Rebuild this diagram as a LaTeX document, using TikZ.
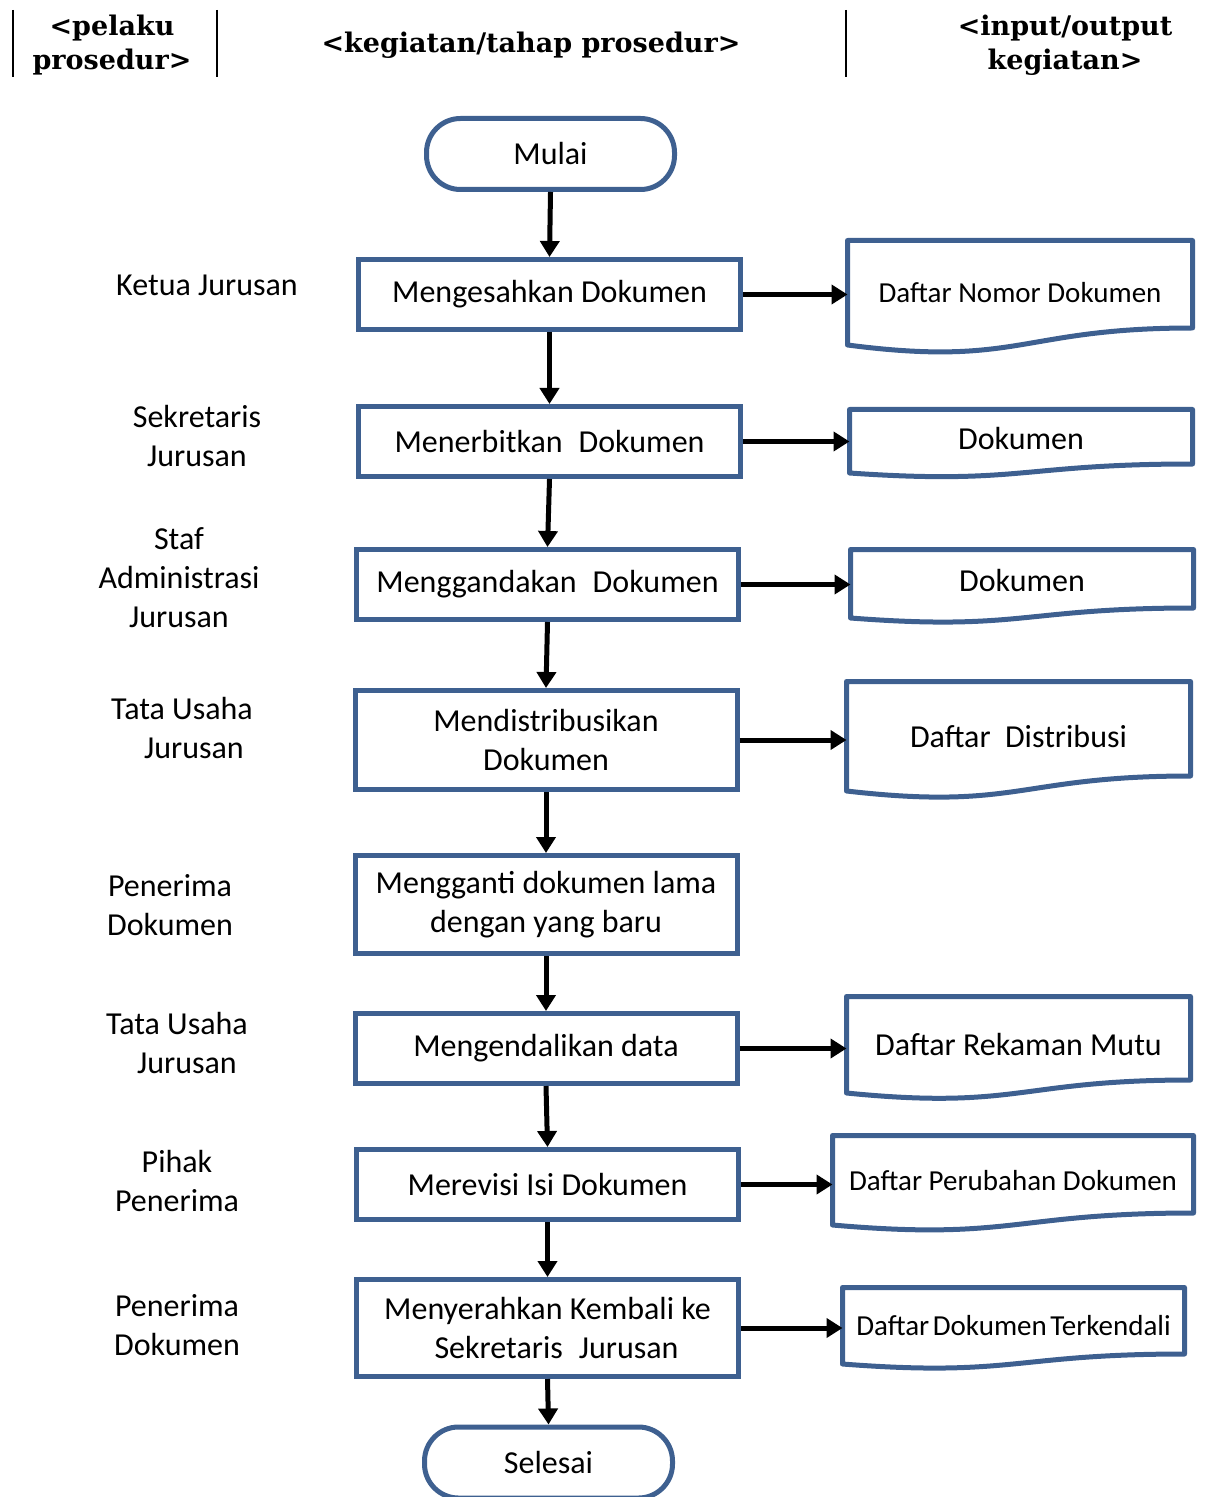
\documentclass[tikz,border=0pt]{standalone}
\usepackage{fontspec}
\setmainfont{Carlito}
\newfontfamily\hdrfont{DejaVu Serif}
\usetikzlibrary{arrows.meta,calc}
\definecolor{boxblue}{RGB}{62,96,144}
\newcommand\drawdoc[2]{\draw[docline] (#1.south west) -- (#1.north west) -- (#1.north east) -- ($(#1.south east)+(0,-#2)$) .. controls ($(#1.south)+(0,-#2)$) and ($(#1.south)+(0,{1.32*#2})$) .. (#1.south west) -- cycle;}
\begin{document}
\begin{tikzpicture}[x=0.5pt,y=-0.5pt,
  procbox/.style={draw=boxblue,line width=2.5pt,fill=white,minimum width=191pt,minimum height=35pt,inner sep=0pt,align=center,font=\fontsize{16}{19.5}\selectfont},
  termbox/.style={draw=boxblue,line width=2.5pt,rounded corners=17pt,minimum width=124pt,minimum height=35.5pt,inner sep=0pt,font=\fontsize{16}{19.5}\selectfont},
  docnode/.style={draw=none,outer sep=0pt,inner sep=0pt,align=center,font=\fontsize{16}{19.5}\selectfont},
  smalldoc/.style={font=\fontsize{14.5}{18}\selectfont},
  docline/.style={draw=boxblue,line width=2.5pt,line join=round},
  arr/.style={line width=2.5pt,-{Triangle[length=8pt,width=9.5pt]}},
  actor/.style={align=center,font=\fontsize{16}{19.5}\selectfont},
  hdr/.style={align=center,font=\hdrfont\bfseries\fontsize{13.5}{17}\selectfont},
  hdrline/.style={line width=1pt}
]
\useasboundingbox (0,0) rectangle (1221,1497);

% header
\draw[hdrline] (13,10) -- (13,77);
\draw[hdrline] (217,10) -- (217,77);
\draw[hdrline] (846,10) -- (846,77);
\node[hdr] (h1) at (112,45) {<pelaku\\prosedur>};
\node[hdr] (h2) at (531,45) {<kegiatan/tahap prosedur>};
\node[hdr] (h3) at (1065,45) {<input/output\\kegiatan>};

% actors
\node[actor] (a1) at (207,285) {Ketua Jurusan};
\node[actor] (a2) at (197,436.5) {Sekretaris\\Jurusan};
\node[actor] (a3) at (179,578) {Staf\\Administrasi\\Jurusan};
\node[actor] (a4) at (182,728) {Tata Usaha\\\hspace*{12pt}Jurusan};
\node[actor] (a5) at (170,905) {Penerima\\Dokumen};
\node[actor] (a6) at (177,1042.5) {Tata Usaha\\\hspace*{10pt}Jurusan};
\node[actor] (a7) at (177,1180.5) {Pihak\\Penerima};
\node[actor] (a8) at (177,1325) {Penerima\\Dokumen};

% process
\node[termbox] (start) at (550.5,154) {Mulai};
\node[procbox] (m1) at (549.5,294.5) {Mengesahkan Dokumen};
\node[procbox] (m2) at (549.5,441.5) {Menerbitkan\hspace{0.5em}Dokumen};
\node[procbox] (m3) at (547.5,584.5) {Menggandakan\hspace{0.5em}Dokumen};
\node[procbox,minimum height=49.5pt] (m4) at (546,740) {Mendistribusikan\\Dokumen};
\node[procbox,minimum height=49pt] (m5) at (546,904.5) {Mengganti dokumen lama\\dengan yang baru};
\node[procbox] (m6) at (546,1048.5) {Mengendalikan data};
\node[procbox] (m7) at (547.5,1184.5) {Merevisi Isi Dokumen};
\node[procbox,minimum height=48.5pt] (m8) at (547.5,1328) {Menyerahkan Kembali ke\\\hspace*{9pt}Sekretaris\hspace{0.5em}Jurusan};
\node[termbox] (stop) at (548.5,1462.5) {Selesai};

% documents
\node[docnode,smalldoc,minimum width=172.5pt,minimum height=52.25pt] (d1) at (1020,292.75) {Daftar Nomor Dokumen};
\node[docnode,minimum width=171.5pt,minimum height=31.75pt] (d2) at (1021,441.25) {\raisebox{3pt}{Dokumen}};
\node[docnode,minimum width=171.5pt,minimum height=34.25pt] (d3) at (1022,583.75) {\raisebox{3pt}{Dokumen}};
\node[docnode,minimum width=172pt,minimum height=54.75pt] (d4) at (1018.5,736.25) {Daftar\hspace{0.45em}Distribusi};
\node[docnode,minimum width=172pt,minimum height=48.25pt] (d5) at (1018.5,1044.75) {Daftar Rekaman Mutu};
\node[docnode,smalldoc,minimum width=180.5pt,minimum height=44.75pt] (d6) at (1013,1180.25) {Daftar Perubahan Dokumen};
\node[docnode,smalldoc,minimum width=171pt,minimum height=38.25pt] (d7) at (1013.5,1325.75) {Daftar\hspace{0.12em}Dokumen\hspace{0.12em}Terkendali};
\drawdoc{d1}{17}
\drawdoc{d2}{9}
\drawdoc{d3}{10}
\drawdoc{d4}{15}
\drawdoc{d5}{13}
\drawdoc{d6}{12}
\drawdoc{d7}{10}

% vertical flow
\draw[arr] (start.south) -- (m1.north);
\draw[arr] (m1.south) -- (m2.north);
\draw[arr] (m2.south) -- (m3.north);
\draw[arr] (m3.south) -- (m4.north);
\draw[arr] (m4.south) -- (m5.north);
\draw[arr] (m5.south) -- (m6.north);
\draw[arr] (m6.south) -- (m7.north);
\draw[arr] (m7.south) -- (m8.north);
\draw[arr] (m8.south) -- (stop.north);

% outputs
\draw[arr] (m1.east) -- (m1.east -| d1.west);
\draw[arr] (m2.east) -- (m2.east -| d2.west);
\draw[arr] (m3.east) -- (m3.east -| d3.west);
\draw[arr] (m4.east) -- (m4.east -| d4.west);
\draw[arr] (m6.east) -- (m6.east -| d5.west);
\draw[arr] (m7.east) -- (m7.east -| d6.west);
\draw[arr] (m8.east) -- (m8.east -| d7.west);
\end{tikzpicture}
\end{document}
